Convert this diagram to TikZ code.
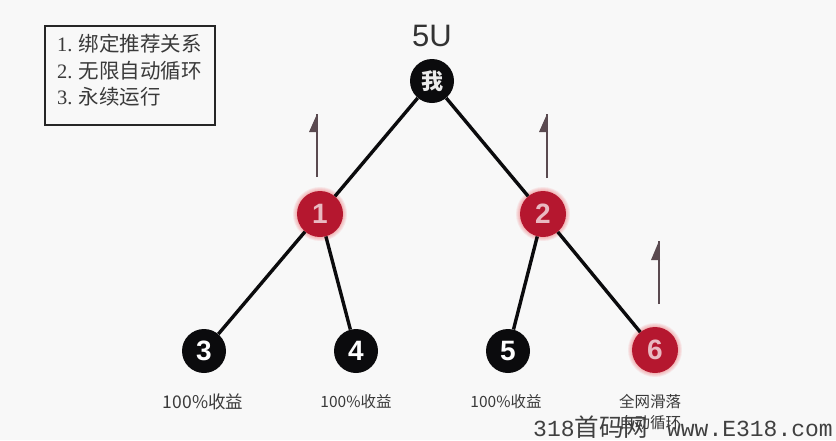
\documentclass[tikz,border=0pt]{standalone}
\usepackage{fontspec}
\setmainfont{Liberation Sans}
\newfontfamily\cjk{Noto Sans CJK SC}
\newfontfamily\wmfont{Liberation Mono}
\newfontfamily\serifdigits{Liberation Serif}
\definecolor{bgc}{HTML}{F8F8F8}
\definecolor{redn}{HTML}{B5172F}
\definecolor{darkn}{HTML}{0B0B0D}
\definecolor{txtc}{HTML}{3A3A3A}
\definecolor{arrc}{HTML}{5A4A50}
\tikzset{
 x=1pt,y=-1pt,
 blacknode/.style={circle,fill=darkn,minimum size=44pt,inner sep=0pt,text=white,font=\bfseries\fontsize{28}{28}\selectfont},
 mynode/.style={circle,fill=darkn,minimum size=44pt,inner sep=0pt,text=white!92!black,font=\cjk\bfseries\fontsize{22}{22}\selectfont},
 rednode/.style={circle,fill=redn,minimum size=46pt,inner sep=0pt,text=white!70!redn,font=\bfseries\fontsize{28}{28}\selectfont},
 edgeline/.style={line width=3.4pt,draw=darkn},
 caption/.style={font=\cjk\fontsize{15.5}{21}\selectfont,text=txtc,align=center},
 upline/.style={line width=1.4pt,draw=arrc},
 uphead/.style={fill=arrc},
 legendtext/.style={font=\cjk\fontsize{20.5}{26.5}\selectfont,text=txtc,align=left,anchor=north west,inner sep=0pt}
}
\newcommand{\glow}[2]{%
 \foreach \r in {27,26,25,24}{\fill[red!70!redn,opacity=0.07] (#1,#2) circle (\r);}}
\begin{document}
\begin{tikzpicture}
\useasboundingbox (0,0) rectangle (836,440);
\fill[bgc] (0,0) rectangle (836,440);
% legend
\node[draw=black!85,line width=1.8pt,minimum width=170pt,minimum height=99pt,anchor=north west,inner sep=0pt] (legend) at (44,25) {};
\node[legendtext] (legendt) at (57,34) {{\serifdigits 1.} 绑定推荐关系\\{\serifdigits 2.} 无限自动循环\\{\serifdigits 3.} 永续运行};
% glows
\glow{320}{214}\glow{543}{214}\glow{655}{350}
% nodes
\node[font=\fontsize{31}{31}\selectfont,text=black!80] (top) at (432,36) {5U};
\node[mynode] (me) at (432,81) {我};
\node[rednode] (n1) at (320,214) {1};
\node[rednode] (n2) at (543,214) {2};
\node[blacknode] (n3) at (204,351) {3};
\node[blacknode] (n4) at (356,351) {4};
\node[blacknode] (n5) at (508,351) {5};
\node[rednode] (n6) at (655,350) {6};
% edges
\draw[edgeline] (me) -- (n1);
\draw[edgeline] (me) -- (n2);
\draw[edgeline] (n1) -- (n3);
\draw[edgeline] (n1) -- (n4);
\draw[edgeline] (n2) -- (n5);
\draw[edgeline] (n2) -- (n6);
% upward half arrows
\coordinate (a1b) at (317,177); \coordinate (a1t) at (317,114);
\draw[upline] (a1b) -- (a1t);
\fill[uphead] (a1t) -- (309,132) -- (318,132) -- cycle;
\coordinate (a2b) at (547,178); \coordinate (a2t) at (547,114);
\draw[upline] (a2b) -- (a2t);
\fill[uphead] (a2t) -- (539,132) -- (548,132) -- cycle;
\coordinate (a3b) at (659,304); \coordinate (a3t) at (659,241);
\draw[upline] (a3b) -- (a3t);
\fill[uphead] (a3t) -- (651,260) -- (660,260) -- cycle;
% captions
\node[caption,font=\cjk\fontsize{17.5}{21}\selectfont] (c3) at (203,402) {100\%收益};
\node[caption] (c4) at (356,402) {100\%收益};
\node[caption] (c5) at (506,402) {100\%收益};
\node[caption,anchor=north] (c6) at (650,391) {全网滑落\\自动循环};
% watermark
\node[anchor=west,inner sep=0pt,text=black!75,font=\wmfont\fontsize{23}{23}\selectfont] (wm) at (533,427) {318{\cjk\fontsize{24.5}{24}\selectfont 首码网}\hspace{19pt}www.E318.com};
\end{tikzpicture}
\end{document}
